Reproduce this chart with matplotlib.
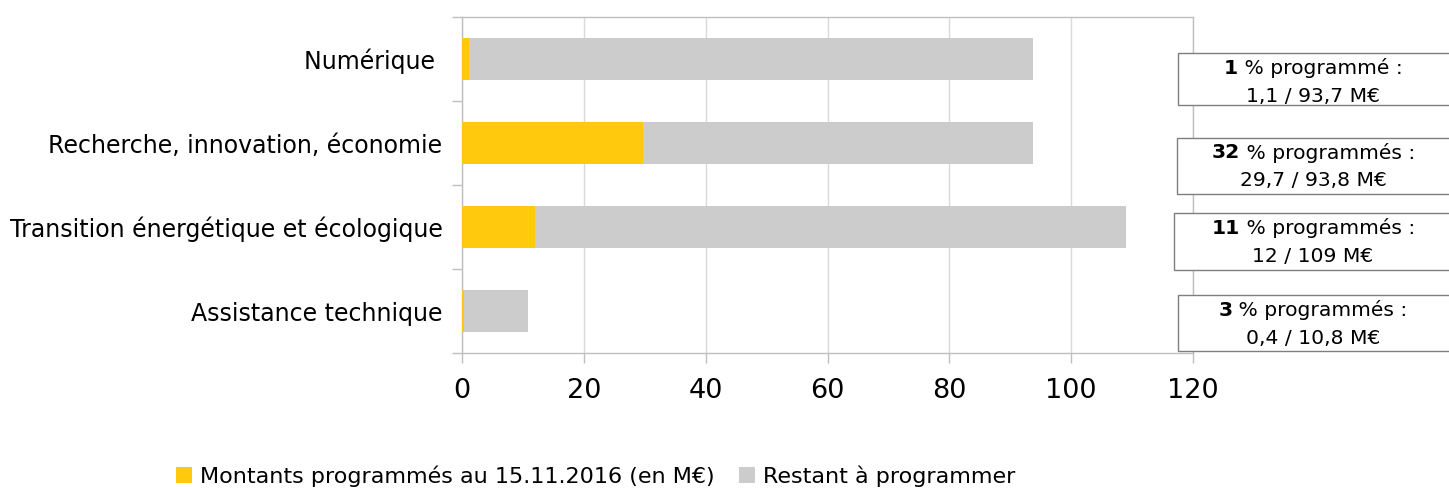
import numpy as np
import matplotlib.pyplot as plt
from matplotlib.patches import Rectangle, Patch

# data, bottom to top
categories = ["Assistance technique", "Transition énergétique et écologique",
              "Recherche, innovation, économie", "Numérique "]
programmed = np.array([0.4, 12, 29.7, 1.1])
totals = np.array([10.8, 109, 93.8, 93.7])
remaining = totals - programmed
pct_values = ["3", "11", "32", "1"]
pct_texts = [" % programmés :", " % programmés :", " % programmés :", " % programmé :"]
amount_texts = ["0,4 / 10,8 M€", "12 / 109 M€", "29,7 / 93,8 M€", "1,1 / 93,7 M€"]
series_names = ["Montants programmés au 15.11.2016 (en M€)", "Restant à programmer"]

YELLOW = "#FFC90E"
GREY = "#CCCCCC"
AXIS = "#BFBFBF"
GRID = "#D9D9D9"

W, H = 1449, 488
fig = plt.figure(figsize=(W / 100, H / 100), dpi=100)
ax = fig.add_axes([462 / W, 1 - 353 / H, (1193 - 462) / W, (353 - 17) / H])

y = np.arange(len(categories))
ax.barh(y, programmed, height=0.5, color=YELLOW, zorder=3)
ax.barh(y, remaining, left=programmed, height=0.5, color=GREY, zorder=3)

ax.set_xlim(0, 120)
ax.set_ylim(-0.5, len(categories) - 0.5)
ax.set_xticks(np.arange(0, 121, 20))
ax.set_yticks(y)
ax.set_yticklabels(categories, fontsize=17)
ax.set_yticks(np.arange(-0.5, len(categories), 1), minor=True)
ax.tick_params(axis="y", which="major", length=0, pad=14)
ax.tick_params(axis="y", which="minor", length=7, width=1, color=AXIS, direction="out")
ax.tick_params(axis="x", which="major", length=7, width=1, color=AXIS, labelsize=19.5, pad=11)
ax.grid(axis="x", color=GRID, linewidth=1, zorder=0)
for s in ax.spines.values():
    s.set_color(AXIS)
    s.set_linewidth(1)

# annotation boxes on the right (figure pixel layout)
box_tops = [295, 213, 138, 53]
box_bottoms = [351, 270, 194, 105]
box_lefts = [1178, 1174, 1177, 1178]
cx = 1313
renderer = fig.canvas.get_renderer()
for i in range(len(categories)):
    top, bot, left = box_tops[i], box_bottoms[i], box_lefts[i]
    fig.add_artist(Rectangle((left / W, 1 - bot / H), (1460 - left) / W, (bot - top) / H,
                             transform=fig.transFigure, facecolor="white",
                             edgecolor="#7F7F7F", linewidth=1, zorder=5))
    y1 = 1 - (top + 15) / H
    y2 = 1 - (top + 43) / H
    t1 = fig.text(0, y1, pct_values[i], fontsize=14.6, weight="bold", ha="left", va="center", zorder=6)
    t2 = fig.text(0, y1, pct_texts[i], fontsize=14.6, ha="left", va="center", zorder=6)
    w1 = t1.get_window_extent(renderer).width
    w2 = t2.get_window_extent(renderer).width
    x0 = cx - (w1 + w2) / 2
    t1.set_x(x0 / W)
    t2.set_x((x0 + w1) / W)
    fig.text(cx / W, y2, amount_texts[i], fontsize=14.6, ha="center", va="center", zorder=6)

handles = [Patch(facecolor=YELLOW), Patch(facecolor=GREY)]
fig.legend(handles, series_names, loc="center left", bbox_to_anchor=(176 / W, 1 - 476 / H),
           ncol=2, frameon=False, fontsize=16, handlelength=0.72, handleheight=0.72,
           handletextpad=0.36, columnspacing=1.1, borderpad=0, borderaxespad=0)

fig.savefig("out.png", dpi=100)
